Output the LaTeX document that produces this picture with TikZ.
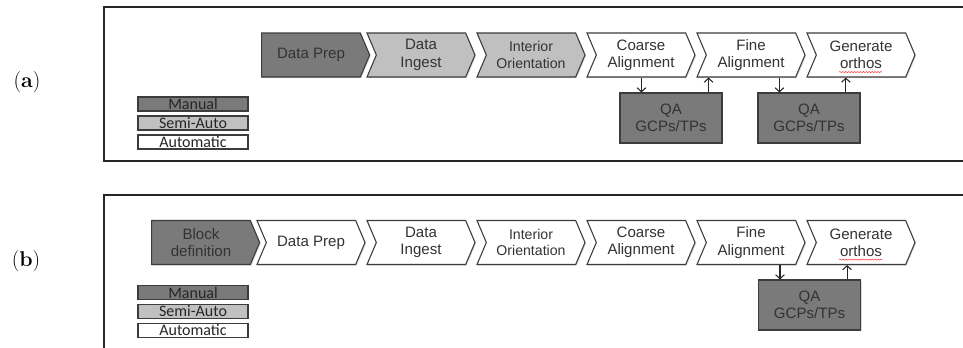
\documentclass[tikz,border=0pt]{standalone}
\usepackage{fontspec}
\newfontfamily\arialfont{Liberation Sans}
\newfontfamily\keyfont{Carlito}
\usetikzlibrary{shapes.symbols,arrows.meta,shadows,decorations.pathmorphing}

\newcommand\stagefont{\arialfont\fontsize{11.3}{13}\selectfont}
\newcommand\smallstagefont{\arialfont\fontsize{10.6}{12.6}\selectfont}
\newcommand\legendfont{\keyfont\fontsize{12}{12}\selectfont}

\definecolor{manualgray}{RGB}{122,122,122}
\definecolor{semigray}{RGB}{192,192,192}
\definecolor{edgegray}{RGB}{60,60,60}

\tikzset{
  stage/.style={signal, signal to=east, signal pointer angle=134, draw=edgegray,
    line width=0.8pt, minimum width=81pt, minimum height=33pt, inner sep=1pt,
    align=center, font=\stagefont, text=black!80,
    drop shadow={shadow xshift=0.8pt, shadow yshift=-0.8pt, opacity=0.3}},
  notched/.style={stage, signal from=west},
  manualfill/.style={fill=manualgray},
  semifill/.style={fill=semigray},
  autofill/.style={fill=white},
  qabox/.style={rectangle, draw=edgegray, line width=0.8pt, fill=manualgray,
    minimum width=76.5pt, minimum height=37.5pt, align=center, font=\stagefont,
    text=black!80, drop shadow={shadow xshift=0.8pt, shadow yshift=-0.8pt, opacity=0.3}},
  keybox/.style={rectangle, draw=edgegray, line width=0.8pt, minimum width=82.5pt,
    minimum height=10.5pt, inner sep=0pt, font=\legendfont, text=black!85,
    drop shadow={shadow xshift=0.6pt, shadow yshift=-0.6pt, opacity=0.3}},
  flow/.style={-{Straight Barb[length=3pt,width=6.5pt]}, line width=0.8pt, black!85},
  frame/.style={draw=black!85, line width=1.5pt},
  spell/.style={red!75, line width=0.4pt, decorate,
    decoration={snake, segment length=2.2pt, amplitude=0.45pt}},
}

\begin{document}
\begin{tikzpicture}[x=0.75pt, y=-0.75pt]
\useasboundingbox (0,0) rectangle (963,347);

% panel (a)
\draw[frame] (104,7) rectangle (990,161);
\node[font=\fontsize{16}{19}\selectfont] (labelA) at (27,82) {(\textbf{a})};

\node[stage, manualfill] (prepA) at (311,55) {Data Prep};
\node[notched, semifill] (ingestA) at (421,55) {Data\\Ingest};
\node[notched, semifill, font=\smallstagefont] (interiorA) at (531,55) {Interior\\Orientation};
\node[notched, autofill] (coarseA) at (641,55) {Coarse\\Alignment};
\node[notched, autofill] (fineA) at (751,55) {Fine\\Alignment};
\node[notched, autofill] (orthoA) at (861,55) {Generate\\orthos};
\draw[spell] ([xshift=-16.5pt,yshift=-12.8pt]orthoA.center) -- ([xshift=15.8pt,yshift=-12.8pt]orthoA.center);

\node[qabox] (qaA1) at (671,118) {QA\\GCPs/TPs};
\node[qabox] (qaA2) at (809,118) {QA\\GCPs/TPs};

\coordinate (qaA1in) at ([xshift=16.5pt]qaA1.north west);
\coordinate (qaA1out) at ([xshift=-10.5pt]qaA1.north east);
\coordinate (qaA2in) at ([xshift=16.5pt]qaA2.north west);
\coordinate (qaA2out) at ([xshift=-11pt]qaA2.north east);
\draw[flow] (coarseA.south -| qaA1in) -- (qaA1in);
\draw[flow] (qaA1out) -- (fineA.south -| qaA1out);
\draw[flow] (fineA.south -| qaA2in) -- (qaA2in);
\draw[flow] (qaA2out) -- (orthoA.south -| qaA2out);

\node[keybox, manualfill] (manualA) at (193,104) {Manual};
\node[keybox, semifill] (semiA) at (193,123) {Semi-Auto};
\node[keybox, autofill] (autoA) at (193,142) {Automatic};

% panel (b)
\draw[frame] (104,195) rectangle (990,360);
\node[font=\fontsize{16}{19}\selectfont] (labelB) at (26,261) {(\textbf{b})};

\node[stage, manualfill] (blockB) at (201,242.5) {Block\\definition};
\node[notched, autofill] (prepB) at (311,242.5) {Data Prep};
\node[notched, autofill] (ingestB) at (421,242.5) {Data\\Ingest};
\node[notched, autofill, font=\smallstagefont] (interiorB) at (531,242.5) {Interior\\Orientation};
\node[notched, autofill] (coarseB) at (641,242.5) {Coarse\\Alignment};
\node[notched, autofill] (fineB) at (751,242.5) {Fine\\Alignment};
\node[notched, autofill] (orthoB) at (861,242.5) {Generate\\orthos};
\draw[spell] ([xshift=-16.5pt,yshift=-12.8pt]orthoB.center) -- ([xshift=15.8pt,yshift=-12.8pt]orthoB.center);

\node[qabox] (qaB) at (809.5,305) {QA\\GCPs/TPs};
\coordinate (qaBin) at ([xshift=16.5pt]qaB.north west);
\coordinate (qaBout) at ([xshift=-10.5pt]qaB.north east);
\draw[flow] (fineB.south -| qaBin) -- (qaBin);
\draw[flow] (qaBout) -- (orthoB.south -| qaBout);

\node[keybox, manualfill] (manualB) at (193,292.5) {Manual};
\node[keybox, semifill] (semiB) at (193,311.5) {Semi-Auto};
\node[keybox, autofill] (autoB) at (193,330.5) {Automatic};
\end{tikzpicture}
\end{document}
